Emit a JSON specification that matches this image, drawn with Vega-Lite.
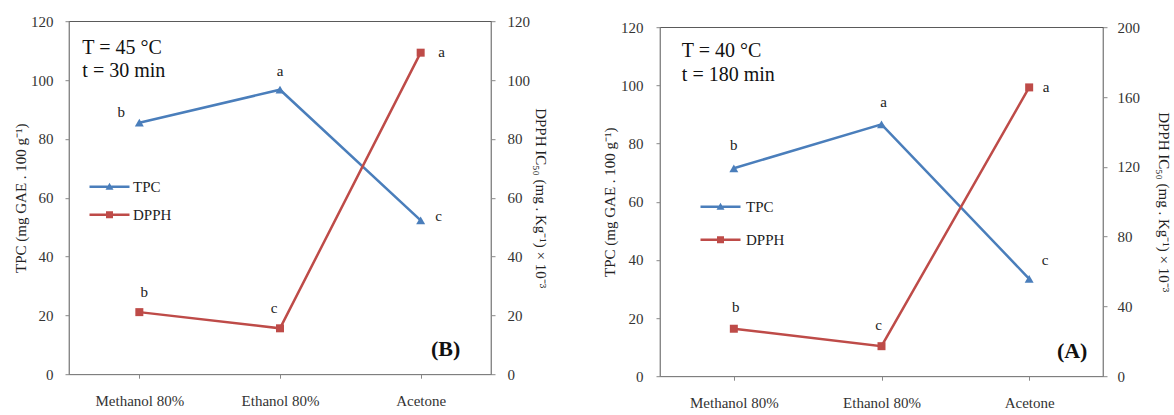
{
  "$schema": "https://vega.github.io/schema/vega-lite/v6.json",
  "padding": {"left": 12, "top": 13, "right": 0, "bottom": 0},
  "config": {
    "font": "Liberation Serif",
    "view": {"stroke": "#5a5a5a", "strokeWidth": 1.2},
    "axis": {"labelFont": "Liberation Serif", "labelFontSize": 15, "labelColor": "#333", "titleFont": "Liberation Serif", "titleFontSize": 15, "titleFontWeight": "normal", "titleColor": "#222", "domainColor": "#888", "tickColor": "#888", "tickSize": 4, "grid": false},
    "legend": {"labelFont": "Liberation Serif"}
  },
  "data": {"values": [
    {"panel": "B", "series": "TPC", "solvent": "Methanol 80%", "value": 85.5, "letter": "b"},
    {"panel": "B", "series": "TPC", "solvent": "Ethanol 80%", "value": 96.7, "letter": "a"},
    {"panel": "B", "series": "TPC", "solvent": "Acetone", "value": 52.3, "letter": "c"},
    {"panel": "B", "series": "DPPH", "solvent": "Methanol 80%", "value": 21.1, "letter": "b"},
    {"panel": "B", "series": "DPPH", "solvent": "Ethanol 80%", "value": 15.6, "letter": "c"},
    {"panel": "B", "series": "DPPH", "solvent": "Acetone", "value": 109.3, "letter": "a"},
    {"panel": "A", "series": "TPC", "solvent": "Methanol 80%", "value": 71.5, "letter": "b"},
    {"panel": "A", "series": "TPC", "solvent": "Ethanol 80%", "value": 86.6, "letter": "a"},
    {"panel": "A", "series": "TPC", "solvent": "Acetone", "value": 33.5, "letter": "c"},
    {"panel": "A", "series": "DPPH", "solvent": "Methanol 80%", "value": 27.2, "letter": "b"},
    {"panel": "A", "series": "DPPH", "solvent": "Ethanol 80%", "value": 17.2, "letter": "c"},
    {"panel": "A", "series": "DPPH", "solvent": "Acetone", "value": 165.5, "letter": "a"}
  ]},
  "spacing": 52,
  "center": true,
  "resolve": {"scale": {"color": "independent", "shape": "independent", "x": "independent", "y": "independent"}, "legend": {"color": "independent", "shape": "independent"}},
  "hconcat": [
    {
      "width": 422, "height": 353,
      "transform": [{"filter": "datum.panel == 'B'"}],
      "encoding": {"x": {"field": "solvent", "type": "nominal", "sort": ["Methanol 80%", "Ethanol 80%", "Acetone"], "title": " ", "axis": {"labelAngle": 0, "labelPadding": 15, "titleFontSize": 6, "titlePadding": 2}}},
      "layer": [
        {
          "transform": [{"filter": "datum.series == 'TPC'"}],
          "encoding": {
            "y": {"field": "value", "type": "quantitative", "scale": {"domain": [0, 120], "nice": false}, "axis": {"title": "TPC (mg GAE . 100 g⁻¹)", "values": [0, 20, 40, 60, 80, 100, 120], "labelPadding": 12, "titlePadding": 2}}
          },
          "layer": [
            {"mark": {"type": "line", "strokeWidth": 2.5, "color": "#4a7ebb"}},
            {"mark": {"type": "point", "shape": "triangle-up", "filled": true, "size": 80, "opacity": 1, "color": "#4a7ebb"}},
            {"transform": [{"filter": "datum.solvent == 'Methanol 80%'"}], "mark": {"type": "text", "fontSize": 15, "color": "#222", "dx": -18, "dy": -11}, "encoding": {"text": {"field": "letter"}}},
            {"transform": [{"filter": "datum.solvent == 'Ethanol 80%'"}], "mark": {"type": "text", "fontSize": 15, "color": "#222", "dx": 0, "dy": -19}, "encoding": {"text": {"field": "letter"}}},
            {"transform": [{"filter": "datum.solvent == 'Acetone'"}], "mark": {"type": "text", "fontSize": 15, "color": "#222", "dx": 18, "dy": -4}, "encoding": {"text": {"field": "letter"}}},
            {"transform": [{"filter": "datum.solvent == 'Methanol 80%'"}], "mark": {"type": "text", "text": ["T = 45 °C", "t = 30 min"], "fontSize": 20, "color": "#111", "align": "left", "baseline": "alphabetic", "lineHeight": 23, "dx": -57}, "encoding": {"x": {"datum": "Methanol 80%"}, "y": {"datum": 108.8}}},
            {"transform": [{"filter": "datum.solvent == 'Acetone'"}], "mark": {"type": "text", "text": "(B)", "fontSize": 22, "fontWeight": "bold", "color": "#111", "align": "center", "baseline": "middle", "dx": 25}, "encoding": {"x": {"datum": "Acetone"}, "y": {"datum": 8.5}}}
          ]
        },
        {
          "transform": [{"filter": "datum.series == 'DPPH'"}],
          "encoding": {
            "y": {"field": "value", "type": "quantitative", "scale": {"domain": [0, 120], "nice": false}, "axis": {"orient": "right", "title": "DPPH IC₅₀ (mg . Kg⁻¹) × 10⁻³", "values": [0, 20, 40, 60, 80, 100, 120], "labelPadding": 12, "titlePadding": 3}}
          },
          "layer": [
            {"mark": {"type": "line", "strokeWidth": 2.5, "color": "#be4b48"}},
            {"mark": {"type": "point", "shape": "square", "filled": true, "size": 64, "opacity": 1, "color": "#be4b48"}},
            {"transform": [{"filter": "datum.solvent == 'Methanol 80%'"}], "mark": {"type": "text", "fontSize": 15, "color": "#222", "dx": 5, "dy": -20}, "encoding": {"text": {"field": "letter"}}},
            {"transform": [{"filter": "datum.solvent == 'Ethanol 80%'"}], "mark": {"type": "text", "fontSize": 15, "color": "#222", "dx": -6, "dy": -20}, "encoding": {"text": {"field": "letter"}}},
            {"transform": [{"filter": "datum.solvent == 'Acetone'"}], "mark": {"type": "text", "fontSize": 15, "color": "#222", "dx": 21, "dy": -1}, "encoding": {"text": {"field": "letter"}}}
          ]
        },
        {
          "transform": [{"filter": "false"}],
          "mark": {"type": "point", "filled": true, "opacity": 1, "size": 100},
          "encoding": {
            "color": {"field": "series", "type": "nominal", "scale": {"domain": ["TPC", "DPPH"], "range": ["#4a7ebb", "#be4b48"]}, "legend": {"orient": "none", "legendX": 33, "legendY": 158, "title": null, "padding": 0, "labelFontSize": 15, "labelColor": "#222", "symbolSize": 100, "symbolStrokeWidth": 0, "labelOffset": 16, "rowPadding": 12}},
            "shape": {"field": "series", "type": "nominal", "scale": {"domain": ["TPC", "DPPH"], "range": ["M-4,-0.25H4V0.25H-4ZM0,-0.8L0.8,0.6H-0.8Z", "M-4,-0.25H4V0.25H-4ZM-0.7,-0.7H0.7V0.7H-0.7Z"]}, "legend": {"orient": "none", "legendX": 33, "legendY": 158, "title": null, "padding": 0, "labelFontSize": 15, "labelColor": "#222", "symbolSize": 100, "symbolStrokeWidth": 0, "labelOffset": 16, "rowPadding": 12}}
          }
        }
      ],
      "resolve": {"scale": {"y": "independent"}}
    },
    {
      "width": 443, "height": 349,
      "transform": [{"filter": "datum.panel == 'A'"}],
      "encoding": {"x": {"field": "solvent", "type": "nominal", "sort": ["Methanol 80%", "Ethanol 80%", "Acetone"], "title": null, "axis": {"labelAngle": 0, "labelPadding": 15}}},
      "layer": [
        {
          "transform": [{"filter": "datum.series == 'TPC'"}],
          "encoding": {
            "y": {"field": "value", "type": "quantitative", "scale": {"domain": [0, 120], "nice": false}, "axis": {"title": "TPC (mg GAE . 100 g⁻¹)", "values": [0, 20, 40, 60, 80, 100, 120], "labelPadding": 13, "titlePadding": 3}}
          },
          "layer": [
            {"mark": {"type": "line", "strokeWidth": 2.5, "color": "#4a7ebb"}},
            {"mark": {"type": "point", "shape": "triangle-up", "filled": true, "size": 80, "opacity": 1, "color": "#4a7ebb"}},
            {"transform": [{"filter": "datum.solvent == 'Methanol 80%'"}], "mark": {"type": "text", "fontSize": 15, "color": "#222", "dx": 0, "dy": -23}, "encoding": {"text": {"field": "letter"}}},
            {"transform": [{"filter": "datum.solvent == 'Ethanol 80%'"}], "mark": {"type": "text", "fontSize": 15, "color": "#222", "dx": 2, "dy": -22}, "encoding": {"text": {"field": "letter"}}},
            {"transform": [{"filter": "datum.solvent == 'Acetone'"}], "mark": {"type": "text", "fontSize": 15, "color": "#222", "dx": 16, "dy": -19}, "encoding": {"text": {"field": "letter"}}},
            {"transform": [{"filter": "datum.solvent == 'Methanol 80%'"}], "mark": {"type": "text", "text": ["T = 40 °C", "t = 180 min"], "fontSize": 20, "color": "#111", "align": "left", "baseline": "alphabetic", "lineHeight": 24, "dx": -52}, "encoding": {"x": {"datum": "Methanol 80%"}, "y": {"datum": 109.7}}},
            {"transform": [{"filter": "datum.solvent == 'Acetone'"}], "mark": {"type": "text", "text": "(A)", "fontSize": 22, "fontWeight": "bold", "color": "#111", "align": "center", "baseline": "middle", "dx": 43}, "encoding": {"x": {"datum": "Acetone"}, "y": {"datum": 8.5}}}
          ]
        },
        {
          "transform": [{"filter": "datum.series == 'DPPH'"}],
          "encoding": {
            "y": {"field": "value", "type": "quantitative", "scale": {"domain": [0, 200], "nice": false}, "axis": {"orient": "right", "title": "DPPH IC₅₀ (mg . Kg⁻¹) × 10⁻³", "values": [0, 40, 80, 120, 160, 200], "labelPadding": 10, "titlePadding": 16}}
          },
          "layer": [
            {"mark": {"type": "line", "strokeWidth": 2.5, "color": "#be4b48"}},
            {"mark": {"type": "point", "shape": "square", "filled": true, "size": 64, "opacity": 1, "color": "#be4b48"}},
            {"transform": [{"filter": "datum.solvent == 'Methanol 80%'"}], "mark": {"type": "text", "fontSize": 15, "color": "#222", "dx": 2, "dy": -22}, "encoding": {"text": {"field": "letter"}}},
            {"transform": [{"filter": "datum.solvent == 'Ethanol 80%'"}], "mark": {"type": "text", "fontSize": 15, "color": "#222", "dx": -3, "dy": -21}, "encoding": {"text": {"field": "letter"}}},
            {"transform": [{"filter": "datum.solvent == 'Acetone'"}], "mark": {"type": "text", "fontSize": 15, "color": "#222", "dx": 17, "dy": 0}, "encoding": {"text": {"field": "letter"}}}
          ]
        },
        {
          "transform": [{"filter": "false"}],
          "mark": {"type": "point", "filled": true, "opacity": 1, "size": 100},
          "encoding": {
            "color": {"field": "series", "type": "nominal", "scale": {"domain": ["TPC", "DPPH"], "range": ["#4a7ebb", "#be4b48"]}, "legend": {"orient": "none", "legendX": 53, "legendY": 172, "title": null, "padding": 0, "labelFontSize": 15, "labelColor": "#222", "symbolSize": 100, "symbolStrokeWidth": 0, "labelOffset": 18, "rowPadding": 17}},
            "shape": {"field": "series", "type": "nominal", "scale": {"domain": ["TPC", "DPPH"], "range": ["M-4,-0.25H4V0.25H-4ZM0,-0.8L0.8,0.6H-0.8Z", "M-4,-0.25H4V0.25H-4ZM-0.7,-0.7H0.7V0.7H-0.7Z"]}, "legend": {"orient": "none", "legendX": 53, "legendY": 172, "title": null, "padding": 0, "labelFontSize": 15, "labelColor": "#222", "symbolSize": 100, "symbolStrokeWidth": 0, "labelOffset": 18, "rowPadding": 17}}
          }
        }
      ],
      "resolve": {"scale": {"y": "independent"}}
    }
  ]
}
